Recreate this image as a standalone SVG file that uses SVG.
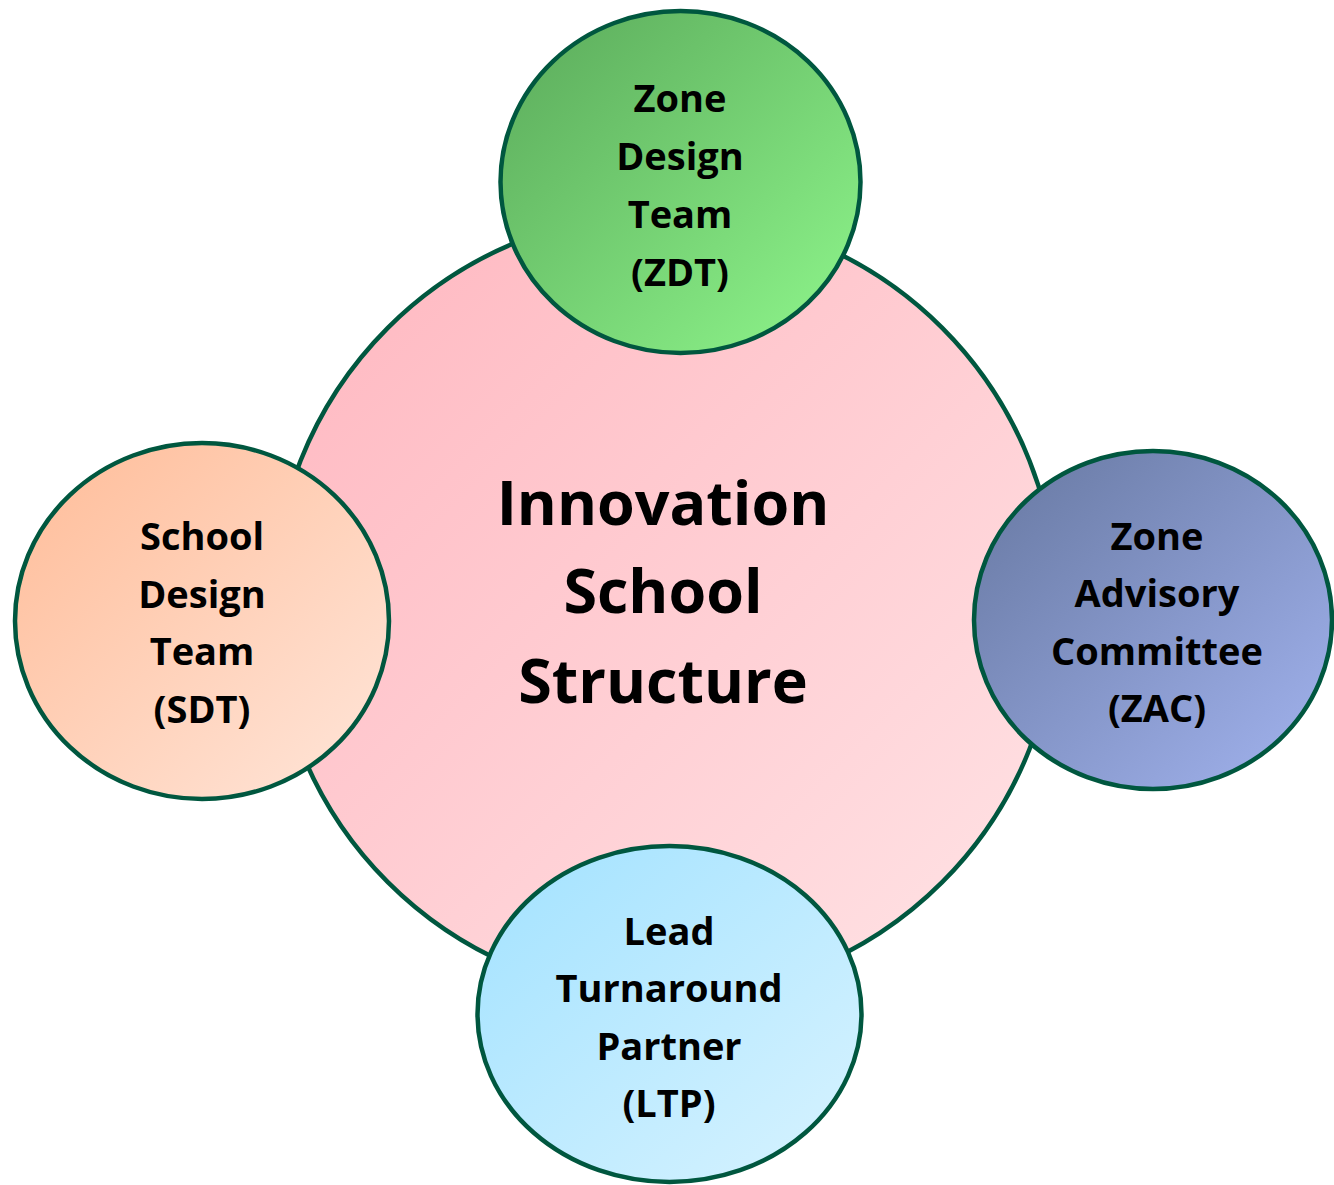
<svg xmlns="http://www.w3.org/2000/svg" width="1334" height="1185" viewBox="0 0 1334 1185">
<style>
.node{stroke:#00573F;stroke-width:4.5}
.t{font-family:"Open Sans",Lato,"Liberation Sans",sans-serif;font-weight:bold;fill:#000;text-anchor:middle;font-variant-ligatures:none}
.s{font-size:38px}
.c{font-size:61px}
</style>
<defs>
<linearGradient id="gPink" x1="0" y1="0" x2="1" y2="1"><stop offset="0" stop-color="#FFB6BF"/><stop offset="1" stop-color="#FFE4E6"/></linearGradient>
<linearGradient id="gGreen" x1="0" y1="0" x2="1" y2="1"><stop offset="0" stop-color="#5AA95A"/><stop offset="1" stop-color="#8FF78C"/></linearGradient>
<linearGradient id="gOrange" x1="0" y1="0" x2="1" y2="1"><stop offset="0" stop-color="#FFBC98"/><stop offset="1" stop-color="#FFE6DA"/></linearGradient>
<linearGradient id="gPurple" x1="0" y1="0" x2="1" y2="1"><stop offset="0" stop-color="#6677A0"/><stop offset="1" stop-color="#A3B4F0"/></linearGradient>
<linearGradient id="gBlue" x1="0" y1="0" x2="1" y2="1"><stop offset="0" stop-color="#A2E2FF"/><stop offset="1" stop-color="#D8F3FF"/></linearGradient>
</defs>
<rect width="1334" height="1185" fill="#FFFFFF"/>
<g id="connectors"></g>
<g id="center">
<circle class="node" cx="665" cy="605" r="392" fill="url(#gPink)"/>
<text class="t c" x="663" y="525">Innovation</text>
<text class="t c" x="663" y="613">School</text>
<text class="t c" x="663" y="703">Structure</text>
</g>
<g id="zdt">
<ellipse class="node" cx="680.5" cy="182" rx="180" ry="171" fill="url(#gGreen)"/>
<text class="t s" x="680" y="112">Zone</text>
<text class="t s" x="680" y="170">Design</text>
<text class="t s" x="680" y="228">Team</text>
<text class="t s" x="680" y="286">(ZDT)</text>
</g>
<g id="sdt">
<ellipse class="node" cx="202" cy="621" rx="187" ry="178" fill="url(#gOrange)"/>
<text class="t s" x="202" y="550">School</text>
<text class="t s" x="202" y="608">Design</text>
<text class="t s" x="202" y="665">Team</text>
<text class="t s" x="202" y="723">(SDT)</text>
</g>
<g id="zac">
<ellipse class="node" cx="1153" cy="620" rx="179" ry="169" fill="url(#gPurple)"/>
<text class="t s" x="1157" y="550">Zone</text>
<text class="t s" x="1157" y="607">Advisory</text>
<text class="t s" x="1157" y="665">Committee</text>
<text class="t s" x="1157" y="722">(ZAC)</text>
</g>
<g id="ltp">
<ellipse class="node" cx="669.5" cy="1014" rx="192" ry="168" fill="url(#gBlue)"/>
<text class="t s" x="669" y="945">Lead</text>
<text class="t s" x="669" y="1002">Turnaround</text>
<text class="t s" x="669" y="1060">Partner</text>
<text class="t s" x="669" y="1117">(LTP)</text>
</g>
</svg>
